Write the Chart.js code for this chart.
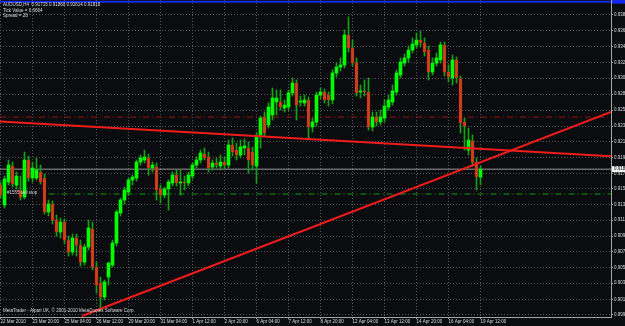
<!DOCTYPE html>
<html>
<head>
<meta charset="utf-8">
<title>AUDUSD,H4</title>
<script src="https://cdn.jsdelivr.net/npm/chart.js@4.4.1/dist/chart.umd.min.js"></script>
<style>
  html, body { margin: 0; padding: 0; background: #0b0c0f; }
  #wrap { position: relative; width: 625px; height: 326px; }
</style>
</head>
<body>
<div id="wrap"><canvas id="chart"></canvas></div>
<script>
const symbol = 'AUDUSD,H4';
const tickValue = '0.6664';
const spread = '28';

// H4 bars, 22 Mar 2010 16:00 .. 19 Apr 2010 12:00
const opens = [
  0.91610, 0.91349, 0.91650, 0.91859, 0.91610, 0.91545, 0.91453, 0.91938, 0.91702, 0.91702,
  0.91780, 0.91702, 0.91257, 0.91362, 0.91152, 0.90995, 0.91126, 0.90890, 0.90733, 0.90917,
  0.90825, 0.90602, 0.90799, 0.91034, 0.90537, 0.90328, 0.90144, 0.90406, 0.90563, 0.90851,
  0.91244, 0.91414, 0.91519, 0.91676, 0.91702, 0.91911, 0.91938, 0.91964, 0.91833, 0.91846,
  0.91558, 0.91479, 0.91558, 0.91637, 0.91741, 0.91637, 0.91650, 0.91637, 0.91728, 0.91872,
  0.91938, 0.92016, 0.91977, 0.91846, 0.91898, 0.91859, 0.91911, 0.91872, 0.92134, 0.92068,
  0.92003, 0.92095, 0.92095, 0.92042, 0.91859, 0.92265, 0.92500, 0.92396, 0.92527, 0.92697,
  0.92697, 0.92618, 0.92631, 0.92815, 0.92945, 0.92697, 0.92684, 0.92723, 0.92370, 0.92435,
  0.92788, 0.92828, 0.92788, 0.92723, 0.93076, 0.93155, 0.93181, 0.93574, 0.93404, 0.93207,
  0.92828, 0.92841, 0.92828, 0.92370, 0.92500, 0.92435, 0.92487, 0.92631, 0.92697, 0.92828,
  0.93050, 0.93207, 0.93273, 0.93377, 0.93443, 0.93508, 0.93469, 0.93377, 0.93089, 0.93207,
  0.93247, 0.93443, 0.93089, 0.93011, 0.93247, 0.92998, 0.92435, 0.92068, 0.92186, 0.91911,
  0.91715
];
const highs = [
  0.91650, 0.91728, 0.91938, 0.91911, 0.91780, 0.91728, 0.92042, 0.91990, 0.91911, 0.91964,
  0.91872, 0.91754, 0.91414, 0.91401, 0.91218, 0.91178, 0.91165, 0.90943, 0.90969, 0.90969,
  0.90890, 0.90838, 0.91152, 0.91126, 0.90602, 0.90406, 0.90367, 0.90602, 0.90890, 0.91283,
  0.91440, 0.91584, 0.91702, 0.91741, 0.91938, 0.92003, 0.92068, 0.92016, 0.91911, 0.91898,
  0.91610, 0.91584, 0.91676, 0.91780, 0.91807, 0.91807, 0.91728, 0.91780, 0.91898, 0.91977,
  0.92068, 0.92095, 0.92042, 0.91938, 0.91964, 0.92003, 0.91977, 0.92199, 0.92226, 0.92160,
  0.92199, 0.92212, 0.92173, 0.92108, 0.92291, 0.92514, 0.92566, 0.92684, 0.92880, 0.92854,
  0.92854, 0.92723, 0.92854, 0.93011, 0.92985, 0.92775, 0.92788, 0.92762, 0.92487, 0.92828,
  0.92880, 0.92867, 0.92828, 0.93116, 0.93207, 0.93273, 0.93639, 0.93810, 0.93508, 0.93273,
  0.92919, 0.92985, 0.93011, 0.92566, 0.92566, 0.92592, 0.92723, 0.92788, 0.92919, 0.93116,
  0.93273, 0.93325, 0.93430, 0.93535, 0.93600, 0.93626, 0.93535, 0.93430, 0.93273, 0.93338,
  0.93482, 0.93482, 0.93181, 0.93312, 0.93286, 0.93037, 0.92487, 0.92356, 0.92265, 0.91964,
  0.91860
];
const lows = [
  0.91440, 0.91309, 0.91610, 0.91584, 0.91558, 0.91414, 0.91427, 0.91663, 0.91650, 0.91676,
  0.91623, 0.91231, 0.91205, 0.91100, 0.90943, 0.90917, 0.90838, 0.90681, 0.90694, 0.90681,
  0.90550, 0.90563, 0.90760, 0.90498, 0.90197, 0.89974, 0.90105, 0.90301, 0.90537, 0.90812,
  0.91205, 0.91362, 0.91479, 0.91610, 0.91663, 0.91872, 0.91898, 0.91741, 0.91780, 0.91414,
  0.91375, 0.91440, 0.91283, 0.91597, 0.91597, 0.91479, 0.91545, 0.91597, 0.91689, 0.91833,
  0.91898, 0.91938, 0.91780, 0.91807, 0.91833, 0.91807, 0.91833, 0.91833, 0.91990, 0.91938,
  0.91964, 0.92003, 0.91767, 0.91807, 0.91637, 0.92095, 0.92252, 0.92356, 0.92461, 0.92527,
  0.92592, 0.92566, 0.92592, 0.92775, 0.92461, 0.92644, 0.92644, 0.92226, 0.92304, 0.92383,
  0.92736, 0.92684, 0.92644, 0.92671, 0.93024, 0.93103, 0.93142, 0.93351, 0.93168, 0.92775,
  0.92749, 0.92775, 0.92330, 0.92317, 0.92383, 0.92396, 0.92435, 0.92592, 0.92657, 0.92788,
  0.93011, 0.93168, 0.93220, 0.93338, 0.93404, 0.93417, 0.93299, 0.92985, 0.93050, 0.93168,
  0.93207, 0.93037, 0.92959, 0.92919, 0.92945, 0.92291, 0.92068, 0.92003, 0.91859, 0.91545,
  0.91614
];
const closes = [
  0.91479, 0.91689, 0.91872, 0.91623, 0.91728, 0.91453, 0.91938, 0.91702, 0.91833, 0.91807,
  0.91650, 0.91257, 0.91362, 0.91152, 0.90995, 0.91126, 0.90890, 0.90733, 0.90917, 0.90825,
  0.90602, 0.90799, 0.91048, 0.90537, 0.90301, 0.90144, 0.90341, 0.90589, 0.90851, 0.91257,
  0.91414, 0.91545, 0.91676, 0.91715, 0.91911, 0.91964, 0.91977, 0.91833, 0.91872, 0.91545,
  0.91479, 0.91558, 0.91650, 0.91741, 0.91637, 0.91650, 0.91637, 0.91741, 0.91872, 0.91938,
  0.92029, 0.91964, 0.91833, 0.91898, 0.91872, 0.91911, 0.91872, 0.92134, 0.92042, 0.92003,
  0.92108, 0.92121, 0.91938, 0.91872, 0.92239, 0.92487, 0.92291, 0.92631, 0.92749, 0.92749,
  0.92631, 0.92657, 0.92815, 0.92945, 0.92657, 0.92710, 0.92723, 0.92370, 0.92435, 0.92788,
  0.92828, 0.92723, 0.92723, 0.93076, 0.93155, 0.93181, 0.93574, 0.93404, 0.93207, 0.92815,
  0.92841, 0.92828, 0.92370, 0.92500, 0.92435, 0.92500, 0.92644, 0.92723, 0.92841, 0.93076,
  0.93220, 0.93273, 0.93377, 0.93456, 0.93508, 0.93469, 0.93351, 0.93089, 0.93207, 0.93273,
  0.93443, 0.93089, 0.93024, 0.93247, 0.93011, 0.92422, 0.92383, 0.92199, 0.91911, 0.91715,
  0.91818
];

// time axis labels, one every 8 bars
const timeLabels = [
  '22 Mar 2010', '23 Mar 20:00', '25 Mar 04:00', '26 Mar 12:00', '29 Mar 20:00', '31 Mar 04:00',
  '1 Apr 12:00', '2 Apr 20:00', '6 Apr 04:00', '7 Apr 12:00', '8 Apr 20:00', '12 Apr 04:00',
  '13 Apr 12:00', '14 Apr 20:00', '16 Apr 04:00', '19 Apr 12:00'
];
const priceTicks = [
  0.93840, 0.93630, 0.93420, 0.93210, 0.93010, 0.92800, 0.92590, 0.92380, 0.92180, 0.91970,
  0.91760, 0.91560, 0.91350, 0.91150, 0.90940, 0.90735, 0.90530, 0.90325, 0.90115, 0.89910
];

// visible range: bar index and price
const xMin = -0.125, xMax = 152.625;
const yMin = 0.89883, yMax = 0.94032;

// objects drawn on the chart (bar index, price)
const trendDown = [[xMin, 0.92442], [xMax, 0.91987]];
const trendUp = [[20.375, 0.89896], [xMax, 0.92566]];
const topLinePrice = 0.94010;
const stopLossPrice = 0.92500;
const sellStopPrice = 0.91493;
const sellStopFrom = 12;
const orderLabel = '#1555 sell stop';
const footer = 'MetaTrader - Alpari UK, \u00a9 2001-2010 MetaQuotes Software Corp.';

const bg = '#0b0c0f';
const bullColor = '#00ff00';
const bearFill = '#b4501c';
const bearEdge = '#e3261a';
const wickColor = '#16a016';
const textColor = '#dcdcdc';
const gridColor = '#55585e';
const axisColor = '#a4a4a4';
const fontFamily = '"Liberation Sans", Arial, sans-serif';

const last = closes.length - 1;
const isBull = i => closes[i] >= opens[i];

const bodies = opens.map((o, i) => ({ x: i, y: [o, closes[i]] }));
const wicks = lows.map((l, i) => ({ x: i, y: [l, highs[i]] }));
const segment = pts => pts.map(p => ({ x: p[0], y: p[1] }));
const hline = (price, from) => [{ x: from, y: price }, { x: xMax, y: price }];

const zeroPadding = s => {
  s.paddingTop = 0; s.paddingBottom = 0; s.paddingLeft = 0; s.paddingRight = 0;
};

const overlay = {
  id: 'overlay',
  beforeDraw(chart) {
    const c = chart.ctx;
    c.save();
    c.fillStyle = bg;
    c.fillRect(0, 0, chart.width, chart.height);
    c.restore();
  },
  afterDraw(chart) {
    const c = chart.ctx;
    const y = chart.scales.y;
    const area = chart.chartArea;
    c.save();
    c.textBaseline = 'middle';
    c.fillStyle = textColor;
    c.font = '4.5px ' + fontFamily;
    const info = [
      symbol + '  ' + [opens[last], highs[last], lows[last], closes[last]].map(v => v.toFixed(5)).join(' '),
      'Tick Value = ' + tickValue,
      'Spread = ' + spread
    ];
    info.forEach((t, i) => c.fillText(t, 3, 5 + i * 5.3));
    c.fillText(footer, 3, 311);
    c.fillText(orderLabel, 7, y.getPixelForValue(sellStopPrice) - 1.5);

    // current price marker on the axis
    const yc = y.getPixelForValue(closes[last]);
    c.fillStyle = '#f2f2f2';
    c.fillRect(area.right + 1, yc - 3, 14, 6);
    c.fillStyle = '#000';
    c.font = '4.5px ' + fontFamily;
    c.fillText(closes[last].toFixed(5), area.right + 3, yc);

    // top line marker
    const yt = y.getPixelForValue(topLinePrice);
    c.fillStyle = '#1428ee';
    c.fillRect(area.right + 1, yt - 2, 14, 4);
    c.restore();
  }
};

new Chart(document.getElementById('chart'), {
  type: 'bar',
  data: {
    datasets: [
      {
        type: 'line', data: segment(trendDown), borderColor: '#f01c1c', borderWidth: 2,
        pointRadius: 0, order: 0
      },
      {
        type: 'line', data: segment(trendUp), borderColor: '#f01c1c', borderWidth: 2,
        pointRadius: 0, order: 0
      },
      {
        type: 'line', data: hline(topLinePrice, xMin), borderColor: '#1428ee', borderWidth: 2,
        pointRadius: 0, order: 0
      },
      {
        type: 'line', data: hline(closes[last], xMin), borderColor: '#9a9a9a', borderWidth: 1,
        pointRadius: 0, order: 3
      },
      {
        type: 'line', data: hline(stopLossPrice, xMin), borderColor: '#9c1414', borderWidth: 1,
        borderDash: [6, 3, 1, 3], pointRadius: 0, order: 3
      },
      {
        type: 'line', data: hline(sellStopPrice, sellStopFrom), borderColor: '#149a14', borderWidth: 1,
        borderDash: [6, 3, 1, 3], pointRadius: 0, order: 3
      },
      {
        data: bodies, order: 1, grouped: false, barThickness: 3, minBarLength: 1,
        backgroundColor: ctx => isBull(ctx.dataIndex) ? bullColor : bearFill,
        borderColor: ctx => isBull(ctx.dataIndex) ? bullColor : bearEdge,
        borderWidth: ctx => isBull(ctx.dataIndex) ? 0 : 1,
        borderSkipped: false
      },
      {
        data: wicks, order: 2, grouped: false, barThickness: 1,
        backgroundColor: wickColor, borderWidth: 0
      }
    ]
  },
  options: {
    responsive: true,
    maintainAspectRatio: false,
    animation: false,
    devicePixelRatio: 1,
    layout: { padding: 0 },
    plugins: { legend: { display: false }, tooltip: { enabled: false } },
    scales: {
      x: {
        type: 'linear', min: xMin, max: xMax, offset: false,
        grid: { color: gridColor, offset: false, drawTicks: true, tickLength: 2, tickColor: axisColor },
        border: { display: true, color: axisColor, width: 1, dash: [1, 2] },
        ticks: {
          color: textColor, font: { family: fontFamily, size: 4.5 }, padding: 0,
          align: 'start', autoSkip: false, maxRotation: 0, minRotation: 0,
          callback: v => timeLabels[Math.round(v / 8)]
        },
        afterBuildTicks: s => { s.ticks = timeLabels.map((t, i) => ({ value: i * 8 })); },
        afterFit: s => { s.height = 9; zeroPadding(s); }
      },
      y: {
        type: 'linear', position: 'right', min: yMin, max: yMax,
        grid: { color: gridColor, drawTicks: true, tickLength: 2, tickColor: axisColor },
        border: { display: true, color: axisColor, width: 1, dash: [1, 2] },
        ticks: {
          color: textColor, font: { family: fontFamily, size: 4.5 }, padding: 1, autoSkip: false,
          callback: v => v.toFixed(5)
        },
        afterBuildTicks: s => { s.ticks = priceTicks.map(v => ({ value: v })); },
        afterFit: s => { s.width = 14; zeroPadding(s); }
      }
    }
  },
  plugins: [overlay]
});
</script>
</body>
</html>
